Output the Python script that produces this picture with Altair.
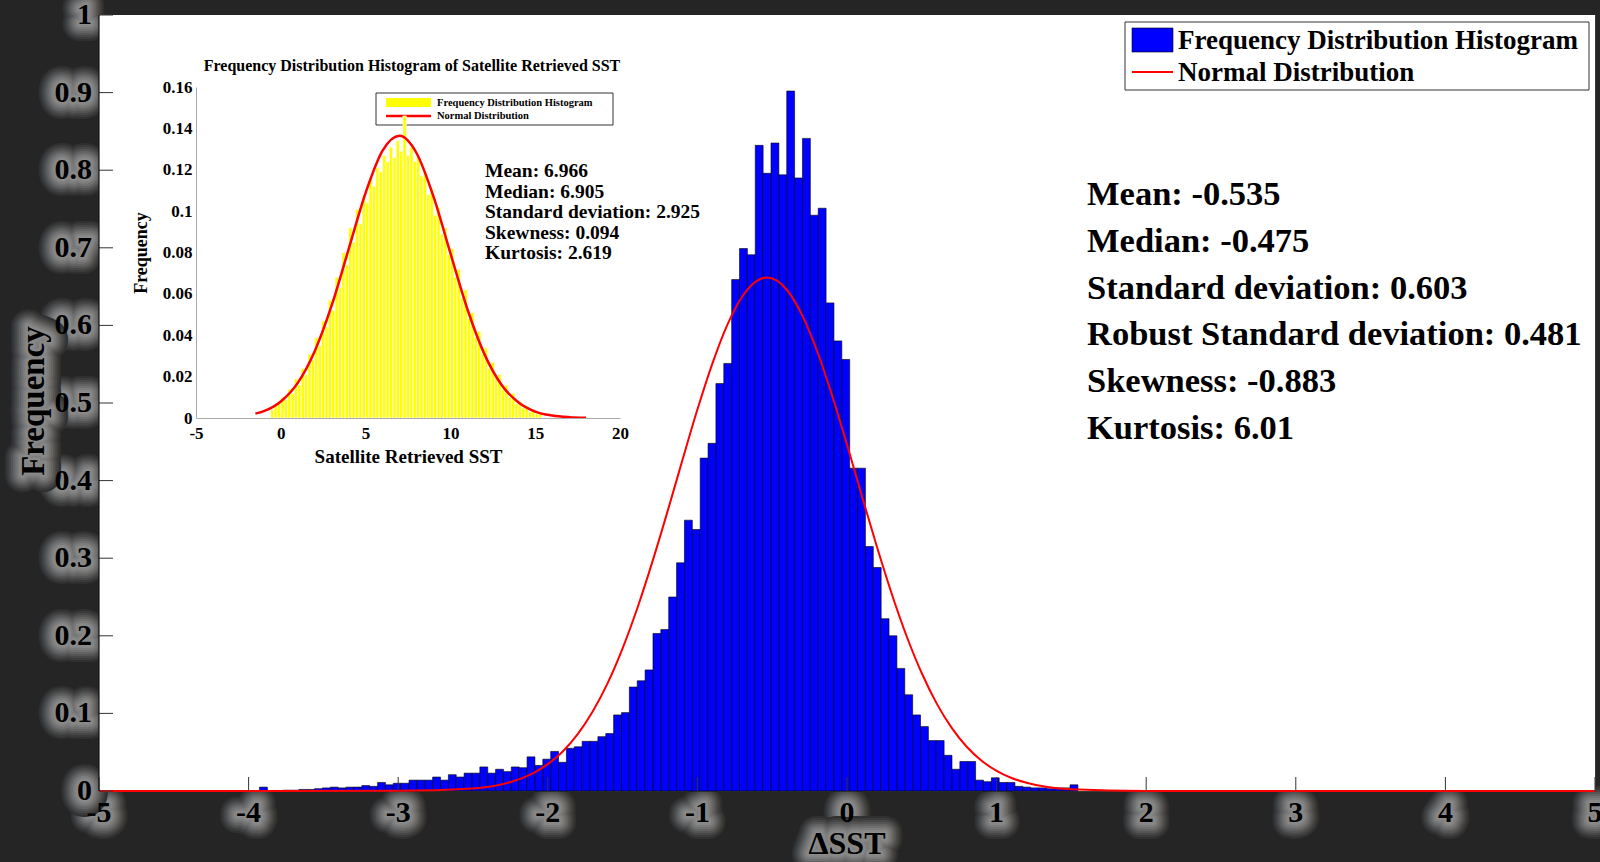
import altair as alt
import pandas as pd

FONT = "Liberation Serif"

# ---------------- main histogram (ΔSST) ----------------
main_bin_first_left = -3.927
main_bin_width = 0.0526
main_freq = [
    0.005, 0.0, 0.0, 0.001, 0.001, 0.002, 0.002, 0.003, 0.004, 0.005,
    0.004, 0.005, 0.005, 0.007, 0.006, 0.011, 0.008, 0.010, 0.010, 0.014,
    0.014, 0.014, 0.018, 0.014, 0.021, 0.018, 0.023, 0.023, 0.031, 0.023,
    0.028, 0.025, 0.031, 0.030, 0.044, 0.033, 0.041, 0.051, 0.037, 0.055,
    0.057, 0.064, 0.064, 0.070, 0.074, 0.098, 0.101, 0.134, 0.142, 0.156,
    0.203, 0.208, 0.250, 0.294, 0.349, 0.337, 0.429, 0.448, 0.525, 0.551,
    0.659, 0.699, 0.691, 0.832, 0.796, 0.835, 0.794, 0.902, 0.790, 0.841,
    0.742, 0.751, 0.629, 0.580, 0.556, 0.416, 0.416, 0.315, 0.288, 0.222,
    0.200, 0.158, 0.124, 0.098, 0.083, 0.065, 0.065, 0.046, 0.028, 0.038,
    0.038, 0.014, 0.012, 0.017, 0.011, 0.011, 0.006, 0.005, 0.004, 0.004,
    0.003, 0.004, 0.004, 0.008,
]
main_curve_x = [-5.0, -3.0, -2.5, -2.2, -2.1, -2.0, -1.9, -1.8, -1.7, -1.6,
                -1.5, -1.4, -1.3, -1.2, -1.1, -1.0, -0.9, -0.8, -0.7, -0.6,
                -0.535, -0.4, -0.3, -0.2, -0.1, 0.0, 0.1, 0.2, 0.3, 0.4,
                0.5, 0.6, 0.7, 0.8, 0.9, 1.0, 1.1, 1.2, 1.5, 2.0, 5.0]
main_curve_y = [0.0, 0.0002, 0.0033, 0.0146, 0.0228, 0.0346, 0.0510, 0.0732, 0.1024, 0.139,
                0.1839, 0.2365, 0.2959, 0.360, 0.4265, 0.4916, 0.5508, 0.6007, 0.6373, 0.6578,
                0.6616, 0.6453, 0.6132, 0.567, 0.510, 0.4464, 0.380, 0.3147, 0.2536, 0.1988,
                0.1517, 0.1126, 0.0813, 0.0570, 0.0390, 0.0259, 0.0168, 0.0106, 0.0022, 0.0001, 0.0]

x_ticks = [-5, -4, -3, -2, -1, 0, 1, 2, 3, 4, 5]
x_tick_labels = ["-5", "-4", "-3", "-2", "-1", "0", "1", "2", "3", "4", "5"]
y_ticks = [0, 0.1, 0.2, 0.3, 0.4, 0.5, 0.6, 0.7, 0.8, 0.9, 1.0]
y_tick_labels = ["0", "0.1", "0.2", "0.3", "0.4", "0.5", "0.6", "0.7", "0.8", "0.9", "1"]

main_stats = ["Mean: -0.535", "Median: -0.475", "Standard deviation: 0.603",
              "Robust Standard deviation: 0.481", "Skewness: -0.883", "Kurtosis: 6.01"]
legend_labels = ["Frequency Distribution Histogram", "Normal Distribution"]
x_title = "ΔSST"
y_title = "Frequency"

# ---------------- inset histogram (satellite SST) ----------------
inset_bin_first_left = -0.6
inset_bin_width = 0.2
inset_freq = [
    0.004, 0.006, 0.008, 0.010, 0.009, 0.014, 0.012, 0.019, 0.016, 0.024,
    0.021, 0.031, 0.028, 0.039, 0.035, 0.047, 0.044, 0.057, 0.052, 0.068,
    0.063, 0.080, 0.074, 0.092, 0.085, 0.101, 0.094, 0.108, 0.104, 0.116,
    0.112, 0.121, 0.119, 0.127, 0.124, 0.131, 0.126, 0.134, 0.129, 0.146,
    0.127, 0.131, 0.124, 0.126, 0.117, 0.119, 0.108, 0.111, 0.098, 0.102,
    0.089, 0.092, 0.079, 0.082, 0.068, 0.072, 0.058, 0.062, 0.048, 0.051,
    0.039, 0.042, 0.031, 0.034, 0.024, 0.027, 0.019, 0.021, 0.014, 0.016,
    0.010, 0.012, 0.007, 0.008, 0.005, 0.006, 0.003, 0.004, 0.002, 0.002,
]
inset_curve_x = [-1.5, -1, 0, 1, 2, 3, 4, 5, 6, 7, 8, 9, 10, 11, 12, 13, 14, 15, 16, 17, 18]
inset_curve_y = [0.0021, 0.0033, 0.0080, 0.0170, 0.0323, 0.0544, 0.0816, 0.1088, 0.1292, 0.1364,
                 0.1281, 0.1071, 0.0797, 0.0527, 0.0310, 0.0162, 0.0076, 0.0031, 0.0012, 0.0004, 0.0001]
inset_x_ticks = [-5, 0, 5, 10, 15, 20]
inset_y_ticks = [0, 0.02, 0.04, 0.06, 0.08, 0.1, 0.12, 0.14, 0.16]
inset_stats = ["Mean: 6.966", "Median: 6.905", "Standard deviation: 2.925",
               "Skewness: 0.094", "Kurtosis: 2.619"]
inset_title = "Frequency Distribution Histogram of Satellite Retrieved SST"
inset_x_title = "Satellite Retrieved SST"
inset_y_title = "Frequency"

# ---------------- tables ----------------
main_df = pd.DataFrame({"freq": main_freq})
main_df["start"] = [main_bin_first_left + i * main_bin_width for i in range(len(main_freq))]
main_df["end"] = main_df["start"] + main_bin_width
main_curve_df = pd.DataFrame({"x": main_curve_x, "y": main_curve_y})
xt_df = pd.DataFrame({"v": x_ticks, "label": x_tick_labels})
yt_df = pd.DataFrame({"v": y_ticks, "label": y_tick_labels})

inset_df = pd.DataFrame({"freq": inset_freq})
inset_df["start"] = [inset_bin_first_left + i * inset_bin_width for i in range(len(inset_freq))]
inset_df["end"] = inset_df["start"] + inset_bin_width
inset_curve_df = pd.DataFrame({"x": inset_curve_x, "y": inset_curve_y})

one = pd.DataFrame({"a": [0]})

W, H = 1496, 776

xs = alt.Scale(domain=[-5, 5], nice=False, zero=False)
ys = alt.Scale(domain=[0, 1], nice=False)

HALO_STEPS = [(34, "#303030"), (30, "#3b3b3b"), (26, "#474747"), (22, "#555555"),
              (18, "#636363"), (14, "#707070"), (10, "#7c7c7c"), (6, "#868686"), (2, "#8c8c8c")]

def halo_text(df, enc, size, angle=0, align="center"):
    layers = []
    for width, col in HALO_STEPS:
        layers.append(alt.Chart(df).mark_text(
            font=FONT, fontWeight="bold", fontSize=size, angle=angle, align=align,
            baseline="middle", fill=col, stroke=col, strokeWidth=width,
            strokeJoin="round").encode(**enc))
    return layers

def plain_text(df, enc, size, angle=0, align="center"):
    return alt.Chart(df).mark_text(
        font=FONT, fontWeight="bold", fontSize=size, angle=angle, align=align,
        baseline="middle", fill="#000000").encode(**enc)

xlab_enc = dict(x=alt.X("v:Q", scale=xs, axis=None), y=alt.value(H + 22), text="label:N")
ylab_enc = dict(x=alt.value(-7), y=alt.Y("v:Q", scale=ys, axis=None), text="label:N")
xt_enc = dict(x=alt.value(748), y=alt.value(829), text=alt.value(x_title))
yt_enc = dict(x=alt.value(-65), y=alt.value(386), text=alt.value(y_title))

halos = (halo_text(xt_df, xlab_enc, 30) + halo_text(yt_df, ylab_enc, 30, align="right")
         + halo_text(one, xt_enc, 32) + halo_text(one, yt_enc, 33, angle=270))
labels = [plain_text(xt_df, xlab_enc, 30), plain_text(yt_df, ylab_enc, 30, align="right"),
          plain_text(one, xt_enc, 32), plain_text(one, yt_enc, 33, angle=270)]

# white plot face drawn over any halo that spills into the plot area
plot_face = alt.Chart(one).mark_rect(fill="white").encode(
    x=alt.value(0), x2=alt.value(W), y=alt.value(0), y2=alt.value(H))

bars = alt.Chart(main_df).mark_bar(fill="#0000ff", stroke="#000000", strokeWidth=0.6).encode(
    x=alt.X("start:Q", scale=xs, axis=None), x2="end:Q",
    y=alt.Y("freq:Q", scale=ys, axis=None), y2=alt.datum(0))
curve = alt.Chart(main_curve_df).mark_line(color="#ff0000", strokeWidth=2, interpolate="monotone").encode(
    x=alt.X("x:Q", scale=xs, axis=None), y=alt.Y("y:Q", scale=ys, axis=None))

ytick_rules = alt.Chart(yt_df).mark_rule(color="#333333", strokeWidth=1).encode(
    x=alt.value(0), x2=alt.value(14), y=alt.Y("v:Q", scale=ys, axis=None))
xtick_rules = alt.Chart(xt_df).mark_rule(color="#333333", strokeWidth=1).encode(
    x=alt.X("v:Q", scale=xs, axis=None), y=alt.value(H), y2=alt.value(H - 14))
left_edge = alt.Chart(one).mark_rule(color="#111111", strokeWidth=1.2).encode(
    x=alt.value(0), y=alt.value(0), y2=alt.value(H))

leg_box = alt.Chart(one).mark_rect(fill="white", stroke="#333333", strokeWidth=1).encode(
    x=alt.value(1026), x2=alt.value(1490), y=alt.value(7), y2=alt.value(75))
leg_patch = alt.Chart(one).mark_rect(fill="#0000ff", stroke="#000000", strokeWidth=0.6).encode(
    x=alt.value(1033), x2=alt.value(1074), y=alt.value(13), y2=alt.value(37))
leg_line = alt.Chart(one).mark_rule(color="#ff0000", strokeWidth=2).encode(
    x=alt.value(1033), x2=alt.value(1074), y=alt.value(57))
leg_text = alt.Chart(one).mark_text(text=legend_labels, lineHeight=32, font=FONT, fontWeight="bold",
                                    fontSize=27, align="left", baseline="alphabetic", color="black").encode(
    x=alt.value(1079), y=alt.value(34))

stats_text = alt.Chart(one).mark_text(text=main_stats, lineHeight=46.8, font=FONT, fontWeight="bold",
                                      fontSize=34.5, align="left", baseline="alphabetic", color="black").encode(
    x=alt.value(988), y=alt.value(190))

# inset decorations (pixel placed)
in_title = alt.Chart(one).mark_text(text=inset_title, font=FONT, fontWeight="bold", fontSize=16,
                                    align="center", baseline="alphabetic", color="black").encode(
    x=alt.value(313), y=alt.value(56))
in_stats = alt.Chart(one).mark_text(text=inset_stats, lineHeight=20.6, font=FONT, fontWeight="bold",
                                    fontSize=19.5, align="left", baseline="alphabetic", color="black").encode(
    x=alt.value(386), y=alt.value(162))
in_leg_box = alt.Chart(one).mark_rect(fill="white", stroke="#333333", strokeWidth=1).encode(
    x=alt.value(277), x2=alt.value(514), y=alt.value(78), y2=alt.value(110))
in_leg_patch = alt.Chart(one).mark_rect(fill="#ffff00").encode(
    x=alt.value(287), x2=alt.value(332), y=alt.value(83), y2=alt.value(92))
in_leg_line = alt.Chart(one).mark_rule(color="#ff0000", strokeWidth=2.5).encode(
    x=alt.value(287), x2=alt.value(332), y=alt.value(101))
in_leg_text = alt.Chart(one).mark_text(text=legend_labels, lineHeight=13, font=FONT, fontWeight="bold",
                                       fontSize=10.5, align="left", baseline="alphabetic", color="black").encode(
    x=alt.value(338), y=alt.value(91))

main_layer = alt.layer(
    *halos, plot_face, *labels,
    bars, curve, ytick_rules, xtick_rules, left_edge,
    leg_box, leg_patch, leg_line, leg_text, stats_text,
    in_title, in_stats, in_leg_box, in_leg_patch, in_leg_line, in_leg_text,
)

# inset with its own scales placed inside the plot
ixs = alt.Scale(domain=[-5, 20], range=[97, 521], nice=False, zero=False)
iys = alt.Scale(domain=[0, 0.16], range=[403, 72], nice=False)
ix_axis = alt.Axis(orient="bottom", offset=-(H - 403), values=inset_x_ticks, format="~g",
                   labelExpr="replace(datum.label, '\u2212', '-')", zindex=1,
                   labelFont=FONT, labelFontWeight="bold", labelFontSize=17, labelColor="black",
                   labelPadding=7, labelFlush=False, labelOverlap=False, ticks=False, grid=False,
                   domainColor="#aaaaaa", domainWidth=1,
                   title=inset_x_title, titleFont=FONT, titleFontWeight="bold", titleFontSize=19,
                   titleColor="black", titlePadding=6)
iy_axis = alt.Axis(orient="left", offset=-97, values=inset_y_ticks, format="~g", zindex=1,
                   labelFont=FONT, labelFontWeight="bold", labelFontSize=17, labelColor="black",
                   labelPadding=4, labelFlush=False, labelOverlap=False, ticks=False, grid=False,
                   domainColor="#aaaaaa", domainWidth=1,
                   title=inset_y_title, titleFont=FONT, titleFontWeight="bold", titleFontSize=18,
                   titleColor="black", titlePadding=12)

inset_bars = alt.Chart(inset_df).mark_bar(fill="#ffff00", stroke="#ffffff", strokeWidth=0.7).encode(
    x=alt.X("start:Q", scale=ixs, axis=ix_axis), x2="end:Q",
    y=alt.Y("freq:Q", scale=iys, axis=iy_axis), y2=alt.datum(0))
inset_curve = alt.Chart(inset_curve_df).mark_line(color="#ff0000", strokeWidth=2.5, interpolate="monotone").encode(
    x=alt.X("x:Q", scale=ixs, axis=ix_axis), y=alt.Y("y:Q", scale=iys, axis=iy_axis))
inset_layer = alt.layer(inset_bars, inset_curve)

chart = alt.layer(main_layer, inset_layer).resolve_scale(
    x="independent", y="independent").resolve_axis(x="independent", y="independent").properties(
    width=W, height=H,
    padding={"left": 99, "top": 15, "right": 5, "bottom": 71},
    autosize=alt.AutoSizeParams(type="none"),
    background="#252525",
).configure_view(fill="white", stroke="#3a3a3a", strokeWidth=1)

chart.save("out.html", embed_options={"renderer": "svg", "actions": False})
